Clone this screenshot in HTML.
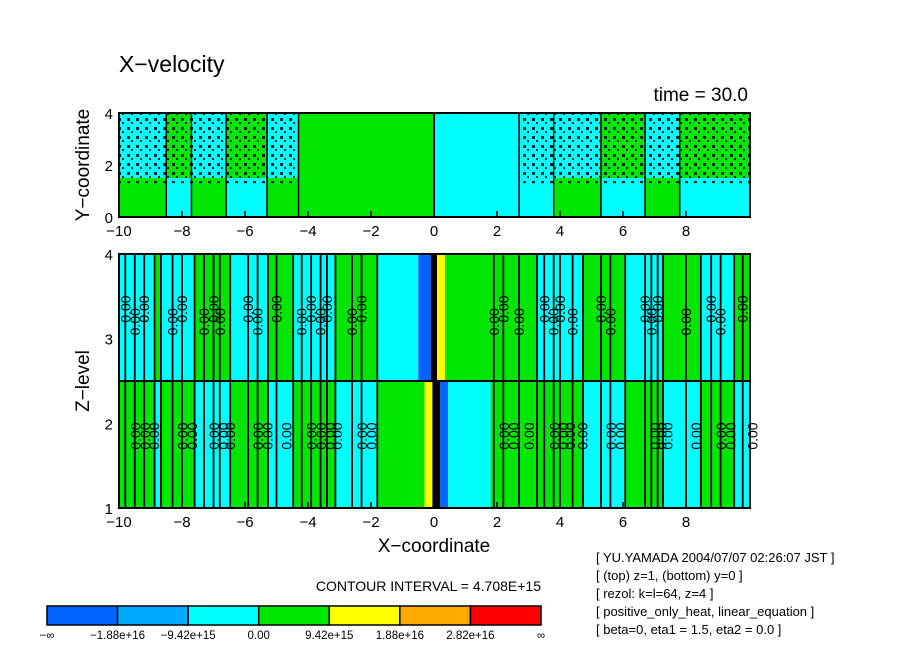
<!DOCTYPE html>
<html><head><meta charset="utf-8"><style>
body{margin:0;background:#fff;font-family:"Liberation Sans",sans-serif}
svg text{font-family:"Liberation Sans",sans-serif;fill:#000}
</style></head><body>
<svg id="c" width="904" height="654" xmlns="http://www.w3.org/2000/svg">
<defs>
<pattern id="dots" width="9" height="9" patternUnits="userSpaceOnUse"><rect x="1" y="1" width="3" height="3" fill="#000"/><rect x="5" y="5" width="2" height="2" fill="#000"/></pattern>
</defs>
<text x="119" y="72" font-size="23">X−velocity</text>
<text x="748" y="101" font-size="19" text-anchor="end">time = 30.0</text>
<g id="top"></g>
<g id="bot"></g>
<text transform="translate(89,165) rotate(-90)" font-size="19" text-anchor="middle">Y−coordinate</text>
<text transform="translate(89,381) rotate(-90)" font-size="19" text-anchor="middle">Z−level</text>
<text x="434" y="552" font-size="19" text-anchor="middle">X−coordinate</text>
<text x="541" y="591" font-size="14" text-anchor="end">CONTOUR INTERVAL = 4.708E+15</text>
<g id="cbar"></g>
<g font-size="13">
<text x="596" y="562">[ YU.YAMADA 2004/07/07 02:26:07 JST ]</text>
<text x="596" y="580">[ (top) z=1, (bottom) y=0 ]</text>
<text x="596" y="598">[ rezol: k=l=64, z=4 ]</text>
<text x="596" y="616">[ positive_only_heat, linear_equation ]</text>
<text x="596" y="634">[ beta=0, eta1 = 1.5, eta2 = 0.0 ]</text>
</g>
</svg>
<script>
const C={b:'#0064ff',lb:'#00aaff',c:'#00ffff',g:'#00e600',y:'#ffff00',o:'#ffaa00',r:'#ff0000',k:'#000'};
const upperStripes=[[-10,-8.87,'c'],[-8.87,-8.67,'g'],[-8.67,-7.6,'c'],[-7.6,-6.47,'g'],[-6.47,-5.27,'c'],[-5.27,-4.47,'g'],[-4.47,-3.13,'c'],[-3.13,-1.8,'g'],[-1.8,-0.5,'c'],[-0.5,-0.1,'b'],[-0.1,0.1,'k'],[0.1,0.35,'y'],[0.35,3.27,'g'],[3.27,4.73,'c'],[4.73,6.07,'g'],[6.07,7.27,'c'],[7.27,8.47,'g'],[8.47,9.53,'c'],[9.53,10.03,'g']];
const lowerStripes=[[-10,-8.87,'g'],[-8.87,-8.67,'c'],[-8.67,-7.6,'g'],[-7.6,-6.47,'c'],[-6.47,-5.27,'g'],[-5.27,-4.47,'c'],[-4.47,-3.13,'g'],[-3.13,-1.8,'c'],[-1.8,-0.3,'g'],[-0.3,-0.05,'y'],[-0.05,0.2,'k'],[0.2,0.45,'b'],[0.45,1.8,'c'],[1.8,3.27,'g'],[3.27,4.73,'g'],[4.73,6.07,'c'],[6.07,7.27,'g'],[7.27,8.47,'c'],[8.47,9.53,'g'],[9.53,10.03,'c']];
const contourLines=[-9.8,-9.5,-9.2,-8.3,-8.0,-7.3,-7.0,-6.8,-5.9,-5.6,-5.0,-4.2,-3.9,-3.6,-3.4,-2.6,-2.3,1.9,2.2,2.7,3.5,3.8,4.0,4.4,5.3,5.6,6.7,6.9,7.1,8.0,8.8,9.1,9.8];
const topCols=[[-10,-8.5,'g','c',1],[-8.5,-7.7,'c','g',1],[-7.7,-6.6,'g','c',1],[-6.6,-5.3,'c','g',1],[-5.3,-4.3,'g','c',1],[-4.3,0,'g','g',0],[0,2.7,'c','c',0],[2.7,3.8,'c','c',1],[3.8,5.3,'g','c',1],[5.3,6.7,'c','g',1],[6.7,7.8,'g','c',1],[7.8,10.03,'c','g',1]];
const xTicks=[-10,-8,-6,-4,-2,0,2,4,6,8];
const yTicks=[0,2,4];
const zTicks=[1,2,3,4];
const cbColors=['b','lb','c','g','y','o','r'];
const cbLabels=['−∞','−1.88e+16','−9.42e+15','0.00','9.42e+15','1.88e+16','2.82e+16','∞'];

const NS='http://www.w3.org/2000/svg';
const X=v=>434+v*31.5;
const YT=v=>217-v*26;
const ZB=v=>508-(v-1)*84.67;
function el(p,t,a){const e=document.createElementNS(NS,t);for(const k in a)e.setAttribute(k,a[k]);p.appendChild(e);return e;}
const topG=document.getElementById('top'),botG=document.getElementById('bot');
topCols.forEach(c=>{
 let r=el(topG,'rect',{x:X(c[0]),y:YT(1.5),width:X(c[1])-X(c[0]),height:YT(0)-YT(1.5),fill:C[c[2]]});
 
 
 let h=el(topG,'rect',{x:X(c[0]),y:YT(4),width:X(c[1])-X(c[0]),height:YT(1.5)-YT(4),fill:C[c[3]]});
 
 
 if(c[4]){let d=el(topG,'rect',{x:X(c[0]),y:YT(4),width:X(c[1])-X(c[0]),height:YT(1.3)-YT(4),fill:'url(#dots)',opacity:0.85});
 
 }
 el(topG,'line',{x1:X(c[0]),x2:X(c[0]),y1:YT(0),y2:YT(4),stroke:'#000','stroke-width':1.5});
});
el(topG,'line',{x1:X(0),x2:X(0),y1:YT(0),y2:YT(4),stroke:'#000','stroke-width':2});
el(topG,'rect',{x:119,y:113,width:631,height:104,fill:'none',stroke:'#000','stroke-width':2});
upperStripes.forEach(s=>{
 let r=el(botG,'rect',{x:X(s[0]),y:ZB(4),width:X(s[1])-X(s[0]),height:ZB(2.5)-ZB(4),fill:C[s[2]]});
 
 
});
lowerStripes.forEach(s=>{
 let r=el(botG,'rect',{x:X(s[0]),y:ZB(2.5),width:X(s[1])-X(s[0]),height:ZB(1)-ZB(2.5),fill:C[s[2]]});
 
 
});
upperStripes.concat(contourLines.map(v=>[v])).forEach(s=>{
 if(s[0]>-10&&Math.abs(s[0])>0.6) el(botG,'line',{x1:X(s[0]),x2:X(s[0]),y1:ZB(1),y2:ZB(4),stroke:'#000','stroke-width':1.8});
});
contourLines.forEach((v,i)=>{
 let t=el(botG,'text',{transform:`translate(${X(v)+5},${i%2?ZB(3.2):ZB(3.35)}) rotate(-90)`,'font-size':14,'text-anchor':'middle'});t.textContent='0.00';
 
 
 let u=el(botG,'text',{transform:`translate(${X(v)+15},${ZB(1.85)}) rotate(-90)`,'font-size':14,'text-anchor':'middle'});u.textContent='0.00';
 
 
});
el(botG,'line',{x1:119,x2:750,y1:ZB(2.5),y2:ZB(2.5),stroke:'#000','stroke-width':2});
el(botG,'rect',{x:119,y:254,width:631,height:254,fill:'none',stroke:'#000','stroke-width':2});
const svgEl=document.getElementById('c');
xTicks.forEach(v=>{
 [[217,236],[508,527]].forEach(p=>{
  let t=el(svgEl,'text',{x:X(v),y:p[1],'font-size':15,'text-anchor':'middle'});t.textContent=v<0?'−'+(-v):v;
  
  
  el(svgEl,'line',{x1:X(v),x2:X(v),y1:p[0],y2:p[0]-6,stroke:'#000','stroke-width':1.5});
 });
});
yTicks.forEach(v=>{let t=el(svgEl,'text',{x:113,y:YT(v)+6,'font-size':15,'text-anchor':'end'});t.textContent=v;
 
 });
zTicks.forEach(v=>{let t=el(svgEl,'text',{x:113,y:ZB(v)+6,'font-size':15,'text-anchor':'end'});t.textContent=v;
 
 });
const cb=document.getElementById('cbar');const w=(541-47)/7;
cbColors.forEach((c,i)=>{let r=el(cb,'rect',{x:47+i*w,y:606,width:w,height:19,fill:C[c],stroke:'#000','stroke-width':1.5});
 
 });
cbLabels.forEach((l,i)=>{let t=el(cb,'text',{x:47+i*w,y:639,'font-size':11.5,'text-anchor':'middle'});t.textContent=l;
 
 });
</script>
</body></html>
